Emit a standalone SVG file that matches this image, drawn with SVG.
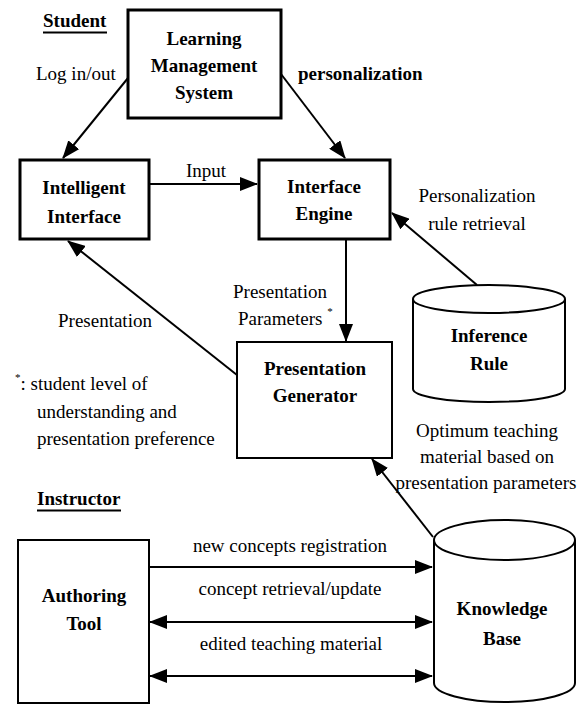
<svg xmlns="http://www.w3.org/2000/svg" width="578" height="705" viewBox="0 0 578 705" font-family="'Liberation Serif', 'Times New Roman', 'DejaVu Serif', serif">
<defs>
<marker id="ah" viewBox="0 0 18 14" markerWidth="18" markerHeight="14" refX="17" refY="7" orient="auto-start-reverse" markerUnits="userSpaceOnUse">
<path d="M0,0 L18,7 L0,14 z" fill="#000"/>
</marker>
<style>
text{font-family:'Liberation Serif','Times New Roman','DejaVu Serif',serif;font-size:19px;fill:#000}
.b{font-weight:bold}
.m{text-anchor:middle}
.box{fill:#fff;stroke:#000;stroke-width:3}
.box2{fill:#fff;stroke:#000;stroke-width:2}
.cyl{fill:#fff;stroke:#000;stroke-width:2}
.ln{fill:none;stroke:#000;stroke-width:2}
</style>
</defs>
<rect width="578" height="705" fill="#fff"/>

<g id="labels">
<text class="b" x="43" y="27">Student</text>
<line x1="43" y1="32.5" x2="107" y2="32.5" stroke="#000" stroke-width="2"/>
<text class="b" x="37" y="505">Instructor</text>
<line x1="37" y1="510.5" x2="121" y2="510.5" stroke="#000" stroke-width="2"/>
<text x="15" y="390"><tspan font-size="11" dy="-9">*</tspan><tspan dy="9">: student level of</tspan></text>
<text x="37" y="418">understanding and</text>
<text x="37" y="445">presentation preference</text>
</g>

<g id="connectors">
<line class="ln" x1="128" y1="78" x2="63" y2="158" marker-end="url(#ah)"/>
<line class="ln" x1="281" y1="74" x2="345" y2="158" marker-end="url(#ah)"/>
<line class="ln" x1="150" y1="184" x2="257" y2="184" marker-end="url(#ah)"/>
<line class="ln" x1="477" y1="285" x2="392" y2="213" marker-end="url(#ah)"/>
<line class="ln" x1="346" y1="240" x2="346" y2="341" marker-end="url(#ah)"/>
<line class="ln" x1="237" y1="375" x2="68" y2="241" marker-end="url(#ah)"/>
<line class="ln" x1="433" y1="537" x2="372" y2="459" marker-end="url(#ah)"/>
<line class="ln" x1="150" y1="567" x2="432" y2="567" marker-end="url(#ah)"/>
<line class="ln" x1="150" y1="622" x2="432" y2="622" marker-start="url(#ah)" marker-end="url(#ah)"/>
<line class="ln" x1="150" y1="676" x2="432" y2="676" marker-start="url(#ah)" marker-end="url(#ah)"/>
<text x="36" y="80">Log in/out</text>
<text class="b" x="298" y="80">personalization</text>
<text x="186" y="177">Input</text>
<text class="m" x="477" y="202">Personalization</text>
<text class="m" x="477" y="230">rule retrieval</text>
<text x="233" y="298">Presentation</text>
<text x="238" y="325">Parameters <tspan font-size="11" dy="-10">*</tspan></text>
<text x="58" y="327">Presentation</text>
<text class="m" x="487" y="437">Optimum teaching</text>
<text class="m" x="487" y="463">material based on</text>
<text class="m" x="486" y="489">presentation parameters</text>
<text class="m" x="290" y="552">new concepts registration</text>
<text class="m" x="290" y="595">concept retrieval/update</text>
<text class="m" x="291" y="650">edited teaching material</text>
</g>

<g id="lms">
<rect class="box" x="128" y="10" width="153" height="108"/>
<text class="b m" x="204" y="45">Learning</text>
<text class="b m" x="204" y="72">Management</text>
<text class="b m" x="204" y="99">System</text>
</g>

<g id="intelligent-interface">
<rect class="box" x="20" y="160" width="129" height="79"/>
<text class="b m" x="84" y="194">Intelligent</text>
<text class="b m" x="84" y="223">Interface</text>
</g>

<g id="interface-engine">
<rect class="box" x="259" y="160" width="131" height="79"/>
<text class="b m" x="324" y="193">Interface</text>
<text class="b m" x="324" y="220">Engine</text>
</g>

<g id="presentation-generator">
<rect class="box2" x="237" y="342" width="155" height="116"/>
<text class="b m" x="315" y="375">Presentation</text>
<text class="b m" x="315" y="402">Generator</text>
</g>

<g id="inference-rule">
<path class="cyl" d="M413,299 L413,389 A76,13 0 0 0 565,389 L565,299"/>
<ellipse class="cyl" cx="489" cy="299" rx="76" ry="14"/>
<text class="b m" x="489" y="342">Inference</text>
<text class="b m" x="489" y="370">Rule</text>
</g>

<g id="authoring-tool">
<rect class="box2" x="18" y="540" width="131" height="163"/>
<text class="b m" x="84" y="602">Authoring</text>
<text class="b m" x="84" y="630">Tool</text>
</g>

<g id="knowledge-base">
<path class="cyl" d="M434,540 L434,683 A70.5,19 0 0 0 575,683 L575,540"/>
<ellipse class="cyl" cx="504.5" cy="540" rx="70.5" ry="20"/>
<text class="b m" x="502" y="615">Knowledge</text>
<text class="b m" x="502" y="645">Base</text>
</g>
</svg>
